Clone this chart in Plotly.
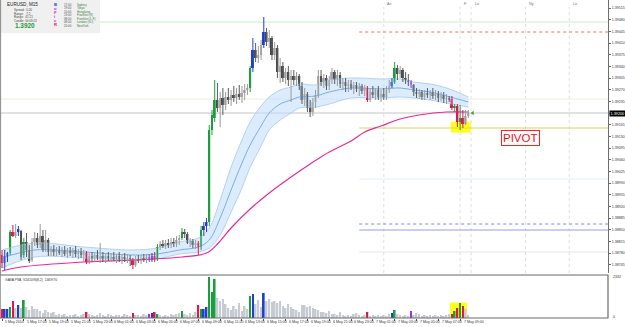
import plotly.graph_objects as go

# ---------------- data (prices in points, 1e-5) ----------------
OPEN_PTS = [
 138774,138750,138771,138780,138843,138831,138843,138846,138774,138813,
 138789,138759,138813,138825,138804,138831,138789,138819,138783,138792,
 138783,138789,138780,138789,138777,138786,138780,138789,138777,138783,
 138774,138780,138753,138771,138765,138774,138765,138771,138762,138771,
 138762,138768,138762,138771,138759,138768,138762,138765,138762,138744,
 138762,138756,138765,138759,138768,138762,138771,138762,138798,138807,
 138801,138810,138804,138813,138807,138819,138825,138843,138837,138810,
 138816,138804,138810,138798,138849,138861,138873,139149,139185,139239,
 139215,139245,139224,139248,139239,139254,139245,139257,139248,139260,
 139269,139275,139335,139389,139365,139374,139404,139443,139413,139425,
 139374,139395,139323,139341,139305,139323,139299,139311,139299,139311,
 139281,139239,139257,139215,139203,139233,139254,139311,139293,139305,
 139281,139299,139323,139299,139314,139287,139293,139281,139287,139275,
 139284,139272,139281,139266,139275,139239,139263,139254,139269,139248,
 139257,139248,139269,139281,139293,139335,139317,139329,139305,139299,
 139293,139284,139263,139257,139263,139248,139260,139254,139263,139251,
 139257,139245,139254,139242,139245,139242,139215,139221,139173,139185,
 139167,139191]
HIGH_PTS = [
 138789,138789,138783,138849,138864,138867,138861,138849,138825,138840,
 138804,138825,138843,138840,138867,138849,138849,138825,138801,138804,
 138798,138801,138798,138801,138795,138798,138795,138801,138792,138795,
 138789,138786,138780,138783,138780,138789,138810,138783,138777,138783,
 138780,138783,138777,138783,138777,138780,138777,138774,138765,138771,
 138774,138774,138777,138777,138777,138780,138783,138807,138816,138819,
 138819,138822,138825,138825,138831,138834,138855,138852,138843,138825,
 138822,138819,138816,138861,138873,138885,139164,139209,139299,139290,
 139263,139275,139263,139275,139269,139281,139275,139284,139281,139287,
 139287,139341,139425,139410,139401,139419,139488,139455,139449,139431,
 139413,139404,139365,139353,139335,139341,139329,139329,139323,139317,
 139293,139275,139263,139239,139245,139269,139329,139329,139317,139314,
 139311,139335,139329,139329,139323,139305,139305,139299,139299,139293,
 139293,139290,139287,139284,139281,139275,139281,139275,139281,139269,
 139275,139281,139299,139305,139353,139344,139341,139335,139323,139317,
 139299,139287,139275,139272,139269,139269,139275,139269,139275,139269,
 139266,139263,139263,139257,139251,139251,139227,139227,139224,139209,
 139209,139209]
LOW_PTS = [
 138735,138729,138753,138774,138828,138825,138831,138759,138765,138768,
 138750,138753,138801,138795,138795,138783,138783,138771,138771,138771,
 138771,138774,138768,138771,138765,138771,138765,138768,138762,138765,
 138753,138747,138747,138756,138753,138759,138750,138753,138750,138756,
 138753,138756,138750,138753,138747,138753,138750,138741,138732,138738,
 138750,138747,138753,138750,138753,138753,138753,138756,138789,138795,
 138792,138795,138795,138798,138798,138804,138819,138825,138807,138798,
 138795,138792,138774,138789,138831,138843,138861,139134,139173,139203,
 139158,139194,139209,139227,139221,139233,139227,139239,139230,139239,
 139254,139263,139323,139353,139350,139359,139395,139401,139395,139359,
 139359,139305,139290,139293,139287,139281,139233,139284,139281,139269,
 139227,139221,139203,139188,139191,139215,139245,139281,139275,139269,
 139269,139287,139287,139281,139275,139269,139263,139263,139269,139257,
 139263,139251,139257,139251,139233,139233,139245,139239,139239,139233,
 139239,139239,139260,139275,139287,139299,139305,139293,139287,139281,
 139275,139251,139245,139242,139239,139239,139245,139239,139242,139239,
 139233,139236,139230,139227,139233,139209,139203,139158,139149,139155,
 139164,139185]
CLOSE_PTS = [
 138750,138771,138780,138843,138831,138843,138852,138768,138813,138789,
 138756,138813,138825,138804,138831,138789,138819,138783,138792,138783,
 138789,138780,138789,138777,138786,138780,138789,138777,138783,138774,
 138780,138753,138771,138765,138774,138765,138771,138762,138771,138762,
 138768,138762,138771,138759,138768,138762,138765,138762,138744,138762,
 138756,138765,138759,138768,138762,138771,138762,138798,138807,138801,
 138810,138804,138813,138807,138819,138825,138843,138837,138810,138816,
 138804,138810,138798,138849,138861,138873,139149,139194,139239,139215,
 139245,139224,139248,139239,139254,139245,139257,139248,139260,139269,
 139275,139335,139389,139365,139374,139404,139443,139413,139425,139374,
 139395,139323,139341,139305,139323,139299,139311,139299,139311,139281,
 139239,139257,139215,139203,139233,139254,139311,139293,139305,139281,
 139299,139323,139299,139314,139287,139293,139281,139287,139275,139284,
 139272,139281,139266,139275,139239,139263,139254,139269,139248,139257,
 139248,139269,139281,139293,139335,139317,139329,139305,139299,139293,
 139284,139263,139257,139263,139248,139260,139254,139263,139251,139257,
 139245,139254,139242,139245,139239,139215,139221,139173,139185,139167,
 139191,139200]
VOLUME = [
 513,513,513,627,969,570,741,570,1026,627,
 456,684,513,513,399,285,456,342,285,342,
 171,228,171,228,114,171,171,228,114,171,
 228,342,228,171,114,171,285,171,114,228,
 171,114,171,171,114,228,171,114,285,171,
 171,114,228,171,228,285,342,228,171,114,
 171,114,228,171,228,285,399,228,171,285,
 171,342,741,513,513,627,2332,1482,2223,1140,
 969,1083,798,570,456,684,513,855,399,684,
 513,1254,1368,798,1026,627,1425,969,1083,912,
 969,855,969,684,570,798,627,513,456,342,
 741,741,627,684,570,513,456,342,342,285,
 399,228,228,171,342,171,114,171,114,228,
 285,171,114,171,342,114,171,114,171,114,
 171,114,228,285,456,228,171,114,171,114,
 399,171,285,228,114,171,114,171,114,171,
 114,171,114,171,228,228,399,570,855,684,
 513,171]
# VSA class of each bar: g=green, b=blue, r=red, p=purple, .=plain
CANDLE_CLASS = ("rbbgr.b.g." ".........." ".........." ".r........"
                "........r." "....pbrg.." "......g..." "..rgbbggg."
                ".........." ".gb...b..." ".........." ".........."
                ".........." "....r....." "...bg....." "p........."
                ".....rgrgr" "..")

# moving-average band (sampled bars) and slow MA
BAND_IDX = [0, 12, 30, 48, 57, 65, 72, 76, 80, 84, 88, 91, 95, 98, 102, 106, 109, 115, 120, 128, 139, 146, 151, 157, 163, 171]
BAND_UP = [138789,138810,138798,138789,138795,138813,138825,138855,138939,139038,139119,139173,139221,139248,139269,139278,139287,139284,139299,139305,139302,139302,139293,139287,139275,139248]
BAND_MID = [138765,138789,138783,138774,138777,138789,138798,138819,138885,138969,139050,139104,139161,139200,139227,139239,139248,139251,139263,139275,139272,139275,139269,139263,139251,139233]
BAND_LO = [138735,138768,138765,138759,138762,138777,138783,138795,138834,138903,138975,139038,139101,139149,139179,139200,139215,139218,139227,139245,139245,139248,139245,139239,139230,139218]
MA_IDX = [0, 7, 30, 48, 66, 75, 79, 84, 91, 98, 106, 113, 120, 128, 133, 139, 146, 153, 163, 171]
MA_VAL = [138726,138738,138753,138759,138768,138780,138807,138855,138912,138960,139008,139047,139083,139116,139143,139161,139182,139194,139203,139203]

# horizontal levels
LEVEL_START = 131
LEVELS_PTS = [139443, 138867, 138849, 139155, 138783, 139002]
LEVEL_COLORS = ["#f07060", "#8080f0", "#9a9af5", "#d6d65a", "#e6e6e6", "#e4ecfb"]
LEVEL_DASH = ["dot", "dot", "solid", "solid", "solid", "solid"]
GREEN_LEVEL = 139473
PALE_LEVEL = 139242
CURRENT = 139200

# session markers
SESSION_BARS = [140, 168, 172, 192, 208]
SESSION_LABELS = ["As", "F", "Lo", "Ny", "Lo"]

# time labels every 8 bars
TIME_TICK_BARS = list(range(0, 169, 8))
TIME_LABELS = ["5 May 2014", "5 May 17:00", "5 May 19:00", "5 May 21:00", "5 May 23:00",
               "6 May 01:00", "6 May 03:00", "6 May 05:00", "6 May 07:00", "6 May 09:00",
               "6 May 11:00", "6 May 13:00", "6 May 15:00", "6 May 17:00", "6 May 19:00",
               "6 May 21:00", "6 May 23:00", "7 May 01:00", "7 May 03:00", "7 May 05:00",
               "7 May 07:00", "7 May 09:00"]
PRICE_TICKS = [1.39515, 1.39480, 1.39445, 1.39410, 1.39375, 1.39340, 1.39305, 1.39270,
               1.39235, 1.39200, 1.39165, 1.39130, 1.39095, 1.39060, 1.39025, 1.38990,
               1.38955, 1.38920, 1.38885, 1.38850, 1.38815, 1.38780, 1.38745]
VOL_MAX = 2332

# ---------------- build ----------------
S = 1e5
op = [v / S for v in OPEN_PTS]
hi = [v / S for v in HIGH_PTS]
lo = [v / S for v in LOW_PTS]
cl = [v / S for v in CLOSE_PTS]
N = len(cl)
X = list(range(N))

PW, PH = 608, 318
def pxx(px): return px / PW
def pxy(py): return 1 - py / PH

CLASS_COLORS = {'g': '#1c9e3f', 'b': '#1f3fcf', 'r': '#e3154d', 'p': '#9a35e6'}
UP_GRAY, DN_GRAY = '#b0b0b0', '#4a4a4a'
VOL_GRAY = '#c6cad2'

fig = go.Figure()

# band
fig.add_trace(go.Scatter(x=BAND_IDX, y=[v / S for v in BAND_LO], mode='lines',
                         line=dict(color='#b0d2f2', width=1, shape='spline'), hoverinfo='skip'))
fig.add_trace(go.Scatter(x=BAND_IDX, y=[v / S for v in BAND_UP], mode='lines', fill='tonexty',
                         fillcolor='rgba(198,224,250,0.6)',
                         line=dict(color='#b0d2f2', width=1, shape='spline'), hoverinfo='skip'))
fig.add_trace(go.Scatter(x=BAND_IDX, y=[v / S for v in BAND_MID], mode='lines',
                         line=dict(color='#78aee8', width=1, shape='spline'), hoverinfo='skip'))
fig.add_trace(go.Scatter(x=MA_IDX, y=[v / S for v in MA_VAL], mode='lines',
                         line=dict(color='#e62a9c', width=1.2, shape='spline'), hoverinfo='skip'))

body_col, wick_col = [], []
for i in X:
    c = CANDLE_CLASS[i]
    if c in CLASS_COLORS:
        body_col.append(CLASS_COLORS[c]); wick_col.append(CLASS_COLORS[c])
    elif cl[i] >= op[i]:
        body_col.append(UP_GRAY); wick_col.append('#9a9a9a')
    else:
        body_col.append(DN_GRAY); wick_col.append('#5a5a5a')

groups = {}
for i in X:
    gx, gy = groups.setdefault(wick_col[i], ([], []))
    gx += [i, i, None]; gy += [lo[i], hi[i], None]
for col, (gx, gy) in groups.items():
    fig.add_trace(go.Scatter(x=gx, y=gy, mode='lines', line=dict(color=col, width=1),
                             hoverinfo='skip', connectgaps=False))

fig.add_trace(go.Bar(x=X, y=[max(abs(cl[i] - op[i]), 0.000015) for i in X],
                     base=[min(cl[i], op[i]) for i in X], width=0.72,
                     marker=dict(color=body_col, line=dict(width=0)), hoverinfo='skip'))

vol_col = [CLASS_COLORS.get(CANDLE_CLASS[i], VOL_GRAY) for i in X]
fig.add_trace(go.Bar(x=X, y=VOLUME, width=0.62, marker=dict(color=vol_col, line=dict(width=0)),
                     yaxis='y2', hoverinfo='skip'))

# price arrow
fig.add_trace(go.Scatter(x=[N + 0.6], y=[CURRENT / S], mode='markers',
                         marker=dict(symbol='triangle-left', size=4, color='#2aa84a'), hoverinfo='skip'))

XMAX = (PW - 2) / 2.727
shapes = []
# yellow boxes
shapes.append(dict(type='rect', xref='x', yref='y', x0=164.6, x1=171.9, y0=1.39141, y1=1.39174,
                   fillcolor='#ffff1a', line=dict(width=0), layer='below'))
shapes.append(dict(type='rect', xref='x', yref='y2', x0=164.3, x1=170.5, y0=0, y1=880,
                   fillcolor='#ffff1a', line=dict(width=0), layer='below'))
# levels
shapes.append(dict(type='line', xref='x', yref='y', x0=-1, x1=XMAX, y0=GREEN_LEVEL / S, y1=GREEN_LEVEL / S,
                   line=dict(color='#c8ecc8', width=1), layer='below'))
shapes.append(dict(type='line', xref='x', yref='y', x0=-1, x1=XMAX, y0=PALE_LEVEL / S, y1=PALE_LEVEL / S,
                   line=dict(color='#efeedc', width=1), layer='below'))
shapes.append(dict(type='line', xref='x', yref='y', x0=-1, x1=XMAX, y0=CURRENT / S, y1=CURRENT / S,
                   line=dict(color='#c4c4c4', width=1), layer='below'))
for p, c, d in zip(LEVELS_PTS, LEVEL_COLORS, LEVEL_DASH):
    shapes.append(dict(type='line', xref='x', yref='y', x0=LEVEL_START, x1=XMAX, y0=p / S, y1=p / S,
                       line=dict(color=c, width=1, dash=d), layer='below'))
for b in SESSION_BARS:
    shapes.append(dict(type='line', xref='x', yref='paper', x0=b, x1=b, y0=pxy(273), y1=pxy(7),
                       line=dict(color='#dedede', width=1, dash='dot'), layer='below'))
# info panel
shapes.append(dict(type='rect', xref='paper', yref='paper', x0=0, x1=pxx(100), y0=pxy(33), y1=1,
                   fillcolor='#f0f0f0', line=dict(width=0)))
# volume panel frame and left edge
shapes.append(dict(type='rect', xref='paper', yref='paper', x0=0, x1=1, y0=0, y1=pxy(275),
                   line=dict(color='#6a6a6a', width=1.2)))
shapes.append(dict(type='line', xref='paper', yref='paper', x0=0.001, x1=0.001, y0=pxy(275), y1=1,
                   line=dict(color='#8a8a8a', width=1)))

ann = []
F = "Liberation Sans"
def txt(px, py, s, size=3.6, color='#333', anchor='left', **kw):
    ann.append(dict(xref='paper', yref='paper', x=pxx(px), y=pxy(py), text=s, showarrow=False,
                    xanchor=anchor, yanchor='middle', font=dict(family=F, size=size, color=color), **kw))

for b, s in zip(TIME_TICK_BARS, TIME_LABELS):
    ann.append(dict(xref='x', yref='paper', x=b + 0.5, y=pxy(322), text=s, showarrow=False,
                    xanchor='left', yanchor='middle', font=dict(family=F, size=3.6, color='#333')))
for b, s in zip(SESSION_BARS, SESSION_LABELS):
    ann.append(dict(xref='x', yref='paper', x=b + 0.6, y=pxy(4), text=s, showarrow=False,
                    xanchor='left', yanchor='middle', font=dict(family=F, size=3.8, color='#777')))

# info panel texts
txt(5, 5, "EURUSD, M15", size=4.6, color='#222')
for k, s in enumerate(["Spread:  0.20", "Range:   7.2", "Range:  41.21", "Candle: 00:09:22"]):
    txt(12, 10 + 3.5 * k, s, size=3.0, color='#444')
txt(13, 25.5, "<b>1.3920</b>", size=6.4, color='#1e9a36')
for k, (s, c) in enumerate(zip(["B", "o", "F", "i", "c", "R"],
                               ["#2040d0", "#9a35e6", "#e02a9a", "#e02a9a", "#e02a9a", "#e3154d"])):
    txt(52, 5 + 3.9 * k, "<b>" + s + "</b>", size=4.2, color=c)
for k, (t, n) in enumerate(zip(["17:00", "19:00", "10:00", "13:00", "08:00", "08:00", "20:00"],
                               ["Sydney", "Tokyo", "Hongkong", "Frankfurt (8)", "Frankfurt (L.F)",
                                "London (G.I)", "NewYork"])):
    txt(62, 4.5 + 3.5 * k, t, size=2.9, color='#555')
    txt(75, 4.5 + 3.5 * k, n, size=2.9, color='#3f7a3f')

txt(3, 279.5, "GAVA PVA  V2410IS(8,2)  1469/70", size=3.4, color='#333')
txt(611, 277, "2332", size=3.6, color='#333')
txt(611, 317, "0", size=3.6, color='#333')

# current price box
ann.append(dict(xref='paper', yref='y', x=pxx(609), y=CURRENT / S, text="1.39200", showarrow=False,
                xanchor='left', yanchor='middle', bgcolor='#000000', borderpad=0.5,
                font=dict(family=F, size=3.8, color='#ffffff')))
# PIVOT
ann.append(dict(xref='paper', yref='paper', x=pxx(520), y=pxy(138), text="PIVOT", showarrow=False,
                xanchor='center', yanchor='middle', bgcolor='#ffffff', bordercolor='#ff2020',
                borderwidth=1, borderpad=1, font=dict(family=F, size=11.5, color='#ee1111')))

fig.update_layout(
    width=625, height=327, margin=dict(l=0, r=17, t=0, b=9),
    paper_bgcolor='white', plot_bgcolor='white', showlegend=False, barmode='overlay',
    xaxis=dict(range=[-2 / 2.727, XMAX], anchor='y2', showgrid=False, zeroline=False, showline=False,
               tickvals=TIME_TICK_BARS, showticklabels=False, ticks='outside', ticklen=2,
               tickcolor='#555', tickwidth=1),
    yaxis=dict(domain=[pxy(273), 1], range=[1.38720, 1.39539], side='right', showgrid=False,
               zeroline=False, showline=True, linecolor='#6e6e6e', linewidth=1,
               tickvals=PRICE_TICKS, ticktext=[f"{v:.5f}" for v in PRICE_TICKS],
               ticks='outside', ticklen=2, tickcolor='#666',
               tickfont=dict(family=F, size=3.6, color='#333')),
    yaxis2=dict(domain=[0, pxy(275)], range=[0, VOL_MAX * 43 / 41], side='right', showgrid=False,
                zeroline=False, showline=False, showticklabels=False),
    shapes=shapes, annotations=ann, hovermode=False,
)

fig.write_html("out.html")
